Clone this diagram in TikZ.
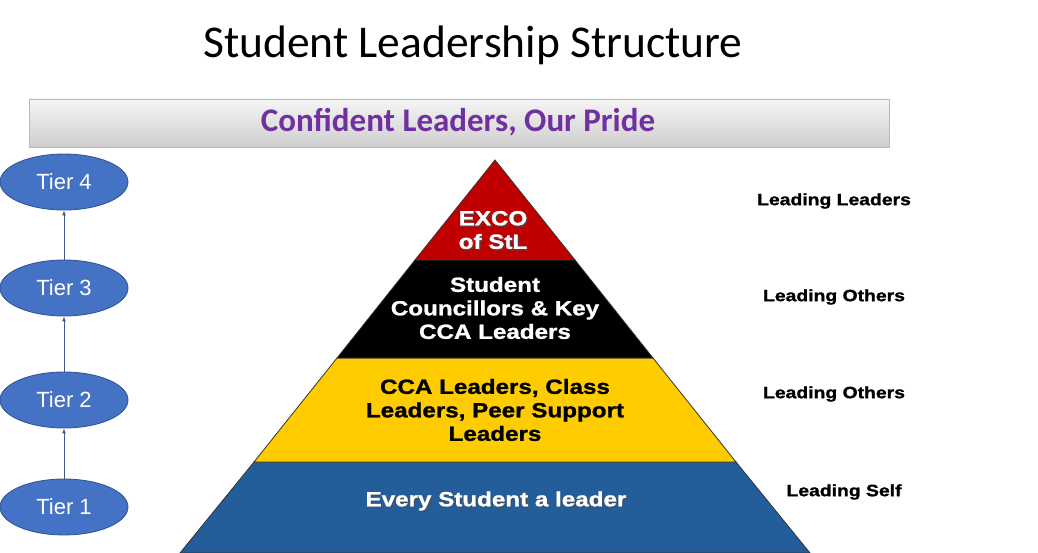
\documentclass[tikz,border=0pt]{standalone}
\usepackage{fontspec}
\setmainfont{Liberation Sans}
\newfontfamily\carlito{Carlito}
\newfontfamily\heavy[FakeStretch=1.18,FakeBold=1.2]{Liberation Sans Bold}
\usetikzlibrary{shapes.geometric, arrows.meta}
\definecolor{tierblue}{HTML}{4472C4}
\definecolor{tierline}{HTML}{2F528F}
\definecolor{pyrred}{HTML}{C00000}
\definecolor{pyryellow}{HTML}{FFCC00}
\definecolor{pyrblue}{HTML}{245E9A}
\definecolor{mottopurple}{HTML}{7030A0}
\tikzset{
  tier/.style={ellipse, fill=tierblue, draw=tierline, line width=0.8pt, minimum width=128pt, minimum height=56pt, inner sep=0pt, text=white, font=\fontsize{22}{26}\selectfont},
  uparrow/.style={-{Latex[length=5pt,width=4pt]}, draw=tierline!80!gray, line width=0.9pt},
  band/.style={draw=black!80, line width=0.8pt},
  pyrtext/.style={align=center, font=\heavy\fontsize{20.5}{23.5}\selectfont},
  sidelabel/.style={font=\heavy\fontsize{16.4}{19}\selectfont}
}
\begin{document}
\begin{tikzpicture}[x=1pt,y=-1pt]
\useasboundingbox (0,0) rectangle (1038,553);
\fill[white] (0,0) rectangle (1038,553);
% title
\node (title) at (473,45) {\carlito\fontsize{45.5}{52}\selectfont Student Leadership Structure};
% banner
\shade[top color=gray!8, bottom color=gray!38, draw=gray!55, line width=0.6pt] (29,99) rectangle (889,147);
\node (motto) at (458,122) {\carlito\bfseries\fontsize{33}{38}\selectfont\color{mottopurple}Confident Leaders, Our Pride};
% pyramid bands
\filldraw[band, fill=pyrblue] (254,462) -- (736,462) -- (810,553) -- (180,553) -- cycle;
\filldraw[band, fill=pyryellow] (337,358) -- (653,358) -- (736,462) -- (254,462) -- cycle;
\filldraw[band, fill=black] (415,260) -- (575,260) -- (653,358) -- (337,358) -- cycle;
\filldraw[band, fill=pyrred] (495,160) -- (575,260) -- (415,260) -- cycle;
% pyramid texts
\node[pyrtext, text=black!70, opacity=0.6] at (494.5,231.5) {EXCO\\of StL};
\node[pyrtext, text=white] (exco) at (493,230) {EXCO\\of StL};
\node[pyrtext, text=white] (council) at (495,308) {Student\\Councillors \& Key\\CCA Leaders};
\node[pyrtext, text=black] (cca) at (495,410) {CCA Leaders, Class\\Leaders, Peer Support\\Leaders};
\node[pyrtext, text=black!70, opacity=0.6] at (497.5,502.5) {Every Student a leader};
\node[pyrtext, text=white] (every) at (496,501) {Every Student a leader};
% side labels
\node[sidelabel] (l4) at (834,201) {Leading Leaders};
\node[sidelabel] (l3) at (834,297) {Leading Others};
\node[sidelabel] (l2) at (834,394) {Leading Others};
\node[sidelabel] (l1) at (844,492) {Leading Self};
% tiers
\node[tier] (t4) at (64,182) {Tier 4};
\node[tier] (t3) at (64,288) {Tier 3};
\node[tier] (t2) at (64,400) {Tier 2};
\node[tier] (t1) at (64,507) {Tier 1};
\draw[uparrow] (t1.north) -- (t2.south);
\draw[uparrow] (t2.north) -- (t3.south);
\draw[uparrow] (t3.north) -- (t4.south);
\end{tikzpicture}
\end{document}
